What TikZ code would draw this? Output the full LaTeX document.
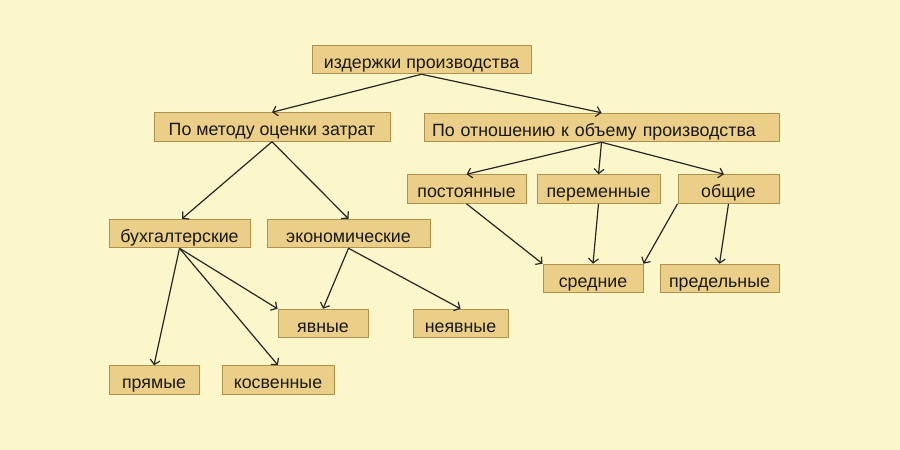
\documentclass[tikz,border=0pt]{standalone}
\usepackage{fontspec}
\setmainfont{Liberation Sans}
\usetikzlibrary{arrows.meta}
\definecolor{bgc}{HTML}{FBF7CA}
\definecolor{boxc}{HTML}{EBCF88}
\definecolor{edgec}{HTML}{AE914C}
\tikzset{
  box/.style={draw=edgec, fill=boxc, line width=1pt, inner sep=0pt,
    minimum height=28.5pt, text height=17pt, text depth=0pt,
    font=\fontsize{17.8}{20}\selectfont, text=black!90},
  conn/.style={draw=black!85, line width=1.2pt, -{Straight Barb[length=4.5pt,width=10pt]}}
}
\begin{document}
\begin{tikzpicture}[x=1pt,y=-1pt]
\fill[bgc] (0,0) rectangle (900,450);
\useasboundingbox (0,0) rectangle (900,450);
\node[box, minimum width=219pt] (top) at (421.5,59.5) {издержки производства};
\node[box, minimum width=236pt] (metod) at (272,127) {По методу оценки затрат};
\node[box, inner xsep=8pt, text width=339pt, align=left] (otn) at (601.5,127.5) {По отношению к объему производства};
\node[box, minimum width=119pt] (post) at (466.5,189) {постоянные};
\node[box, minimum width=123pt] (perem) at (598.5,189) {переменные};
\node[box, minimum width=101pt] (obsh) at (728.5,189) {общие};
\node[box, minimum width=100pt] (sred) at (593,278.5) {средние};
\node[box, minimum width=119pt] (pred) at (719.5,278.5) {предельные};
\node[box, minimum width=141pt] (buh) at (179.5,233.5) {бухгалтерские};
\node[box, minimum width=163pt] (econ) at (348.5,233.5) {экономические};
\node[box, minimum width=90pt] (yav) at (323,323.5) {явные};
\node[box, minimum width=95pt] (neyav) at (460.5,323.5) {неявные};
\node[box, minimum width=90pt] (pryam) at (154,380) {прямые};
\node[box, minimum width=112pt] (kosv) at (278,380) {косвенные};

\draw[conn] (top.south) -- (metod.north);
\draw[conn] (top.south) -- (otn.north);
\draw[conn] (metod.south) -- ([xshift=2.5pt]buh.north);
\draw[conn] (metod.south) -- (econ.north);
\draw[conn] (otn.south) -- (post.north);
\draw[conn] (otn.south) -- (perem.north);
\draw[conn] (otn.south) -- ([xshift=-4.5pt]obsh.north);
\draw[conn] (post.south) -- (sred.north west);
\draw[conn] (perem.south) -- (sred.north);
\draw[conn] (obsh.south west) -- (sred.north east);
\draw[conn] (obsh.south) -- (pred.north);
\draw[conn] (buh.south) -- (yav.north west);
\draw[conn] (buh.south) -- (kosv.north);
\draw[conn] (buh.south) -- (pryam.north);
\draw[conn] (econ.south) -- (yav.north);
\draw[conn] (econ.south) -- (neyav.north);
\end{tikzpicture}
\end{document}
